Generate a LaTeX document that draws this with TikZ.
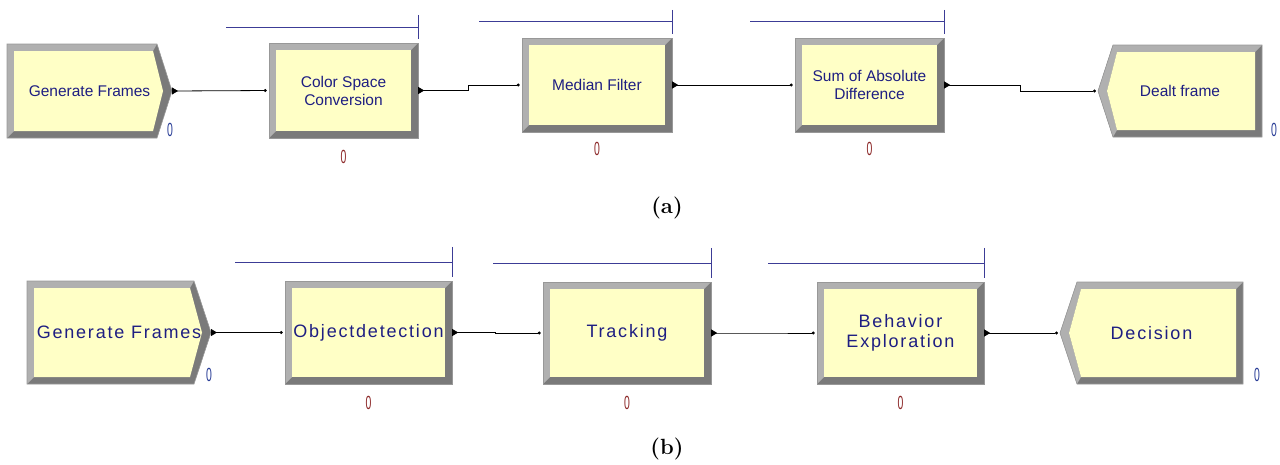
\documentclass[tikz,border=0pt]{standalone}
\usepackage{fontspec}
\usepackage{graphicx}
\usetikzlibrary{arrows.meta,positioning}
\newfontfamily\arenafont{Liberation Sans}
\newfontfamily\arenawide{Liberation Sans}[LetterSpace=10]

\definecolor{facefill}{HTML}{FFFFC6}
\definecolor{bevlight}{HTML}{B0B0B0}
\definecolor{bevdark}{HTML}{7A7A7A}
\definecolor{rimgray}{HTML}{989898}
\definecolor{modtext}{HTML}{1E1E82}
\definecolor{qblue}{HTML}{3C3C96}
\definecolor{cntred}{HTML}{8C2828}
\definecolor{cntblue}{HTML}{283C96}

\tikzset{
  rim/.style={draw=rimgray, line width=0.6pt},
  txta/.style={font=\arenafont\fontsize{15.5}{18}\selectfont, text=modtext, align=center, inner sep=0pt},
  txtb/.style={font=\arenawide\fontsize{18}{20}\selectfont, text=modtext, align=center, inner sep=0pt},
  qbar/.style={draw=qblue, line width=1pt},
  flow/.style={draw=black, line width=0.8pt, {Triangle[reversed,length=6pt,width=7pt]}-{Circle[length=3pt]}, shorten >=2pt},
  cntr/.style={font=\arenafont\fontsize{19}{19}\selectfont, text=cntred, inner sep=0pt},
  cntb/.style={font=\arenafont\fontsize{19}{19}\selectfont, text=cntblue, inner sep=0pt},
  capt/.style={font=\bfseries\fontsize{22}{24}\selectfont, inner sep=0pt}
}

% process module: name, style, x1, y1, x2, y2, text
\newcommand{\procmod}[7]{%
  \fill[bevdark] (#3,#4) rectangle (#5,#6);
  \fill[bevlight] (#3,#4) -- (#5,#4) -- (#5-7,#4+7) -- (#3+7,#4+7) -- (#3+7,#6-7) -- (#3,#6) -- cycle;
  \fill[facefill] (#3+7,#4+7) rectangle (#5-7,#6-7);
  \draw[rim] (#3,#4) rectangle (#5,#6);
  \node[#2, minimum width={#5-#3}, minimum height={#6-#4}] (#1) at ({(#3+#5)/2},{(#4+#6)/2}) {#7};
  \coordinate (#1-in) at (#1.west);
  \coordinate (#1-out) at (#1.east);
}
% create module: name, style, x1, y1, xc, xt, y2, text
\newcommand{\createmod}[8]{%
  \fill[bevdark] (#3,#4) -- (#5,#4) -- (#6,{(#4+#7)/2}) -- (#5,#7) -- (#3,#7) -- cycle;
  \fill[bevlight] (#3,#4) -- (#5,#4) -- (#5-4,#4+7) -- (#3+7,#4+7) -- (#3+7,#7-7) -- (#3,#7) -- cycle;
  \fill[facefill] (#3+7,#4+7) -- (#5-4,#4+7) -- (#6-9,{(#4+#7)/2}) -- (#5-4,#7-7) -- (#3+7,#7-7) -- cycle;
  \draw[rim] (#3,#4) -- (#5,#4) -- (#6,{(#4+#7)/2}) -- (#5,#7) -- (#3,#7) -- cycle;
  \node[#2] (#1) at ({(#3+#6)/2},{(#4+#7)/2}) {#8};
  \coordinate (#1-out) at (#6,{(#4+#7)/2});
}
% dispose module: name, style, xt, xc, y1, x2, y2, text
\newcommand{\disposemod}[8]{%
  \fill[bevdark] (#4,#5) -- (#6,#5) -- (#6,#7) -- (#4,#7) -- (#3,{(#5+#7)/2}) -- cycle;
  \fill[bevlight] (#4,#5) -- (#6,#5) -- (#6-7,#5+7) -- (#4+4,#5+7) -- (#3+9,{(#5+#7)/2}) -- (#4+4,#7-7) -- (#4,#7) -- (#3,{(#5+#7)/2}) -- cycle;
  \fill[facefill] (#4+4,#5+7) -- (#6-7,#5+7) -- (#6-7,#7-7) -- (#4+4,#7-7) -- (#3+9,{(#5+#7)/2}) -- cycle;
  \draw[rim] (#4,#5) -- (#6,#5) -- (#6,#7) -- (#4,#7) -- (#3,{(#5+#7)/2}) -- cycle;
  \node[#2] (#1) at ({(#3+#6)/2},{(#5+#7)/2}) {#8};
  \coordinate (#1-in) at (#3,{(#5+#7)/2});
}
% queue bar over a module: node, length, height, tick top
\newcommand{\queuebar}[4]{%
  \draw[qbar] ([yshift=#3pt]#1.north east) -- ++(-#2,0);
  \draw[qbar] ([yshift=#4pt]#1.north east) -- ([yshift=4pt]#1.north east);
}
\newcommand{\zero}{\scalebox{0.55}[1]{0}}

\begin{document}
\begin{tikzpicture}[x=1pt,y=-1pt]
\useasboundingbox (0,0) rectangle (1280,464);

% (a)
\createmod{gfa}{txta}{7}{44}{157}{172}{138}{Generate Frames}
\procmod{csc}{txta}{269}{43}{418}{138}{Color Space\\Conversion}
\procmod{med}{txta}{522}{38}{672}{132}{Median Filter}
\procmod{sad}{txta}{795}{38}{944}{132}{Sum of Absolute\\Difference}
\disposemod{dlt}{txta}{1098}{1113}{45}{1262}{137}{Dealt frame}

\queuebar{csc}{192}{15}{28}
\queuebar{med}{193}{16}{28}
\queuebar{sad}{194}{16}{28}

\draw[flow] (gfa-out) -- (csc-in);
\draw[flow] (csc-out) -- ++(50,0) |- (med-in);
\draw[flow] (med-out) -- (sad-in);
\draw[flow] (sad-out) -- ++(76,0) |- (dlt-in);

\node[cntb] (gfa-cnt) at (170,130) {\zero};
\node[cntr, below=12pt of csc] (csc-cnt) {\zero};
\node[cntr, below=10pt of med] (med-cnt) {\zero};
\node[cntr, below=10pt of sad] (sad-cnt) {\zero};
\node[cntb] (dlt-cnt) at (1274,130) {\zero};

\node[capt] (capa) at (667,208) {(a)};

% (b)
\createmod{gfb}{txtb}{27}{281}{194}{211}{384}{Generate Frames}
\procmod{obj}{txtb}{285}{281}{452}{384}{Objectdetection}
\procmod{trk}{txtb}{543}{282}{711}{384}{Tracking}
\procmod{beh}{txtb}{817}{282}{984}{384}{Behavior\\Exploration}
\disposemod{dec}{txtb}{1060}{1077}{282}{1243}{384}{Decision}

\queuebar{obj}{217}{18}{34}
\queuebar{trk}{218}{18}{34}
\queuebar{beh}{216}{18}{34}

\draw[flow] (gfb-out) -- (obj-in);
\draw[flow] (obj-out) -- ++(43,0) |- (trk-in);
\draw[flow] (trk-out) -- ++(53,0) |- (beh-in);
\draw[flow] (beh-out) -- (dec-in);

\node[cntb] (gfb-cnt) at (209,375) {\zero};
\node[cntr, below=12pt of obj] (obj-cnt) {\zero};
\node[cntr, below=12pt of trk] (trk-cnt) {\zero};
\node[cntr, below=12pt of beh] (beh-cnt) {\zero};
\node[cntb] (dec-cnt) at (1257,375) {\zero};

\node[capt] (capb) at (667,449) {(b)};
\end{tikzpicture}
\end{document}
